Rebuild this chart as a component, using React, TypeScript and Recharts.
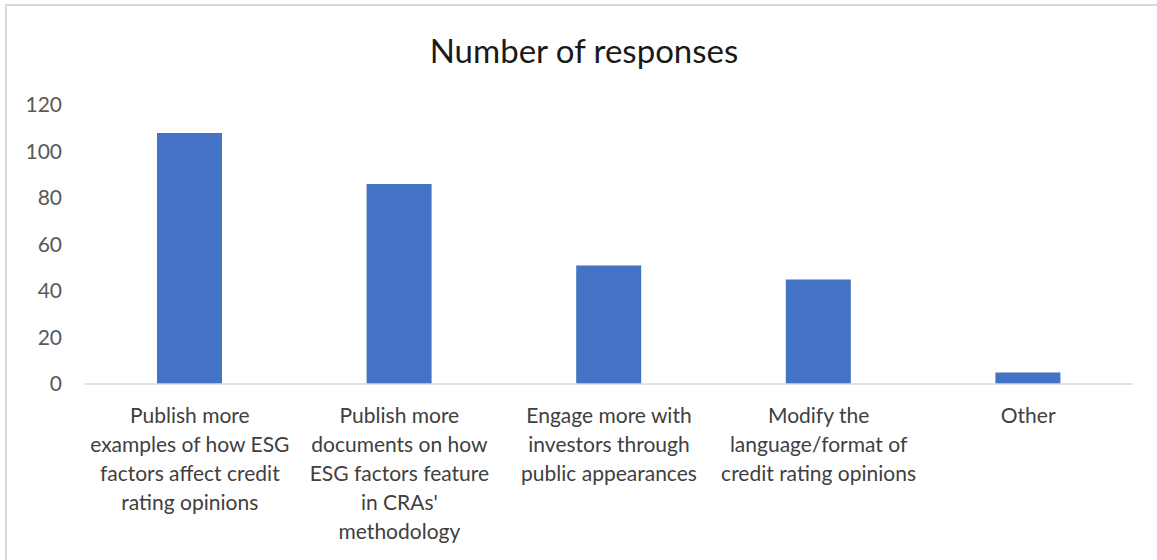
import { BarChart, Bar, XAxis, YAxis } from "recharts";

const categories = [
  ["Publish more", "examples of how ESG", "factors affect credit", "rating opinions"],
  ["Publish more", "documents on how", "ESG factors feature", "in CRAs'", "methodology"],
  ["Engage more with", "investors through", "public appearances"],
  ["Modify the", "language/format of", "credit rating opinions"],
  ["Other"],
];
const responses = [108, 86, 51, 45, 5];
const yTicks = [0, 20, 40, 60, 80, 100, 120];

const data = categories.map((lines, i) => ({
  name: lines.join(" "),
  responses: responses[i],
}));

const FONT = "Lato, 'Open Sans', sans-serif";

function CategoryTick(props: any) {
  const { x, y, index } = props;
  const lines = categories[index] || [];
  return (
    <text x={x} y={y} textAnchor="middle" fill="#404040" fontSize={21} fontFamily={FONT}>
      {lines.map((l, i) => (
        <tspan key={i} x={x} dy={i === 0 ? 31 : 29}>
          {l}
        </tspan>
      ))}
    </text>
  );
}

export default function App() {
  return (
    <div
      style={{
        position: "absolute",
        left: 0,
        top: 0,
        width: 1157,
        height: 560,
        background: "#fff",
        overflow: "hidden",
        fontFamily: FONT,
      }}
    >
      <div
        style={{
          position: "absolute",
          left: 5,
          top: 4,
          width: 1200,
          height: 600,
          borderLeft: "2px solid #d9d9d9",
          borderTop: "2px solid #d9d9d9",
        }}
      />
      <div
        style={{
          position: "absolute",
          left: 0,
          top: 29,
          width: 1168,
          textAlign: "center",
          fontSize: 33,
          lineHeight: "42px",
          color: "#1a1a1a",
        }}
      >
        Number of responses
      </div>
      <div style={{ position: "absolute", left: 0, top: 0 }}>
        <BarChart
          width={1157}
          height={560}
          data={data}
          margin={{ top: 105, right: 24, left: 0, bottom: 0 }}
        >
          <XAxis
            dataKey="name"
            axisLine={{ stroke: "#d9d9d9", strokeWidth: 1.5 }}
            tickLine={false}
            interval={0}
            tick={<CategoryTick />}
            height={176}
          />
          <YAxis
            domain={[0, 120]}
            ticks={yTicks}
            interval={0}
            axisLine={false}
            tickLine={false}
            width={85}
            tickMargin={17}
            tick={{ fill: "#595959", fontSize: 21, fontFamily: FONT }}
          />
          <Bar dataKey="responses" fill="#4472c4" barSize={65} isAnimationActive={false} />
        </BarChart>
      </div>
    </div>
  );
}
